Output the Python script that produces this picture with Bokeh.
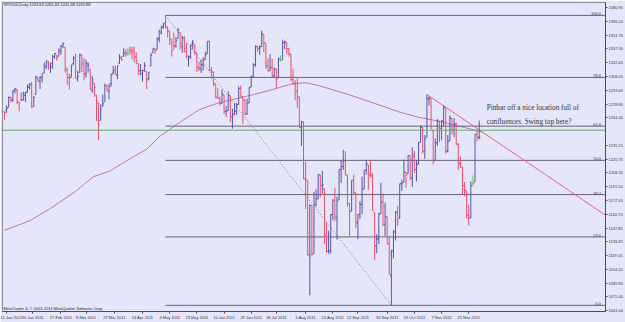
import numpy as np
from bokeh.plotting import figure
from bokeh.models import Range1d, FixedTicker, PrintfTickFormatter, ColumnDataSource, Label, Span
from bokeh.core.properties import value
from bokeh.embed import file_html
from bokeh.resources import INLINE

# ---------------- data: SPX500 daily bars, 10 Jan 2011 .. 2 Dec 2011 (bar index 0..227)
opens = [
    1270.8, 1272.6, 1275.7, 1285.8, 1282.9, 1293.2, 1294.5, 1280.9, 1283.6, 1283.3, 1288.2, 1291.9, 1297.5, 1299.6, 1276.5,
    1289.1, 1305.9, 1302.8, 1307.0, 1311.9, 1318.8, 1322.5, 1318.1, 1318.7, 1328.7, 1330.4, 1329.5, 1334.4, 1340.4, 1338.9, 1315.4, 1307.1, 1307.3, 1321.6,
    1328.6, 1305.5, 1312.4, 1330.7, 1322.7, 1311.1, 1319.9, 1315.7, 1293.4, 1301.2, 1288.5, 1279.5, 1261.6, 1276.7, 1281.7, 1298.3, 1292.2, 1300.6, 1311.8, 1315.5, 1309.4, 1321.9, 1327.4,
    1329.5, 1333.6, 1332.6, 1335.9, 1334.8, 1336.2, 1329.0, 1321.9, 1314.0, 1311.1, 1314.5, 1313.4, 1305.9, 1319.1, 1333.2, 1337.1, 1336.8, 1348.4, 1353.9, 1360.1,
    1365.2, 1359.8, 1355.9, 1344.2, 1341.0, 1340.2, 1348.3, 1354.5, 1339.4, 1348.7, 1334.8, 1326.1, 1328.5, 1342.4, 1342.0, 1333.1, 1317.7, 1316.4, 1320.6, 1325.7, 1332.0,
    1345.2, 1314.6, 1312.9, 1300.3, 1286.3, 1284.6, 1279.6, 1288.6, 1271.3, 1272.2, 1287.9, 1265.5, 1268.6, 1271.5, 1278.4, 1295.5, 1286.6, 1283.0, 1268.4, 1280.2, 1296.9, 1307.6,
    1320.6, 1339.6, 1337.6, 1339.6, 1352.4, 1343.3, 1319.6, 1314.5, 1317.7, 1308.9, 1315.9, 1307.1, 1325.8, 1325.6, 1343.8, 1344.3, 1337.4, 1331.9, 1304.8, 1300.1,
    1292.6, 1286.6, 1254.2, 1260.2, 1200.3, 1198.5, 1120.2, 1171.8, 1121.3, 1172.9, 1178.9, 1204.2, 1192.9, 1189.6, 1140.5, 1123.6, 1124.4, 1162.2, 1176.7, 1158.9, 1177.9, 1209.8, 1213.0,
    1219.1, 1203.9, 1174.0, 1165.9, 1198.0, 1185.4, 1153.5, 1162.6, 1173.3, 1189.4, 1209.2, 1215.0, 1204.5, 1203.6, 1164.6, 1128.8, 1136.9, 1163.3, 1175.4, 1151.7, 1159.9,
    1131.2, 1097.4, 1124.0, 1144.1, 1165.0, 1158.2, 1194.6, 1196.2, 1207.0, 1205.7, 1224.5, 1200.8, 1223.5, 1209.9, 1215.4, 1238.7, 1254.2, 1229.2, 1244.0, 1284.4, 1285.0,
    1251.0, 1219.6, 1238.2, 1260.8, 1253.2, 1261.1, 1275.2, 1229.6, 1240.1, 1263.9, 1251.7, 1257.8, 1236.6, 1216.2, 1212.5, 1193.0, 1187.5, 1161.4, 1158.7, 1195.2, 1196.7,
    1246.9, 1243.63,
]
highs = [
    1271.5, 1277.6, 1286.9, 1286.7, 1293.2, 1296.1, 1294.6, 1281.0, 1291.2, 1291.9, 1291.3, 1299.7, 1301.3, 1302.7, 1287.2,
    1308.9, 1307.6, 1308.6, 1311.0, 1322.9, 1324.9, 1324.5, 1322.8, 1330.8, 1332.9, 1330.4, 1337.6, 1341.5, 1344.1, 1338.9, 1317.9, 1310.9, 1320.6, 1329.4,
    1332.1, 1314.2, 1332.3, 1331.1, 1327.7, 1325.7, 1323.2, 1315.7, 1308.4, 1301.2, 1288.5, 1280.9, 1278.9, 1288.9, 1300.6, 1299.4, 1300.5, 1311.3, 1319.2, 1319.7, 1319.4, 1331.7, 1329.8,
    1337.9, 1336.7, 1338.2, 1340.0, 1339.5, 1339.5, 1333.8, 1321.9, 1321.4, 1315.0, 1322.9, 1313.4, 1312.7, 1332.7, 1337.5, 1337.6, 1349.6, 1357.5, 1361.7, 1364.6,
    1372.6, 1360.8, 1355.9, 1348.0, 1354.4, 1349.4, 1359.4, 1354.5, 1351.1, 1350.5, 1343.3, 1330.4, 1341.8, 1346.8, 1342.0, 1333.1, 1323.7, 1325.9, 1328.5, 1334.6, 1345.2,
    1345.2, 1318.0, 1312.9, 1300.3, 1296.2, 1287.0, 1294.5, 1288.6, 1277.0, 1292.5, 1287.9, 1274.1, 1279.8, 1280.4, 1297.6, 1298.6, 1286.6, 1283.9, 1284.9, 1296.8, 1309.2, 1322.0,
    1341.0, 1340.9, 1340.9, 1356.5, 1352.4, 1343.3, 1327.2, 1331.5, 1326.9, 1317.7, 1315.9, 1328.1, 1330.4, 1347.0, 1346.1, 1344.3, 1338.5, 1331.9, 1316.3, 1304.2,
    1307.4, 1286.6, 1261.2, 1260.2, 1218.1, 1198.5, 1172.9, 1171.8, 1186.3, 1189.0, 1204.5, 1204.2, 1208.5, 1189.6, 1154.5, 1145.5, 1162.4, 1178.6, 1190.7, 1181.2, 1210.1, 1220.1, 1230.7,
    1229.3, 1203.9, 1174.0, 1198.6, 1204.4, 1185.4, 1162.5, 1176.4, 1202.4, 1209.1, 1220.1, 1215.0, 1220.4, 1206.3, 1164.6, 1141.7, 1164.2, 1195.9, 1184.7, 1175.1, 1159.9,
    1139.0, 1125.1, 1146.1, 1165.6, 1171.4, 1194.9, 1199.2, 1220.3, 1207.5, 1224.6, 1224.5, 1233.1, 1229.6, 1219.4, 1239.0, 1256.6, 1254.2, 1246.3, 1289.0, 1287.1, 1285.0,
    1251.0, 1242.5, 1263.2, 1260.8, 1261.7, 1277.6, 1275.2, 1246.2, 1267.0, 1263.9, 1264.3, 1259.6, 1237.7, 1223.5, 1212.5, 1196.8, 1187.5, 1172.7, 1197.4, 1203.7, 1247.1,
    1251.1, 1261.63,
]
lows = [
    1262.2, 1269.6, 1275.7, 1280.5, 1281.1, 1290.2, 1278.9, 1271.3, 1282.1, 1282.5, 1281.1, 1291.0, 1294.4, 1275.1, 1276.0,
    1289.1, 1302.6, 1294.8, 1301.7, 1311.9, 1316.0, 1314.9, 1311.7, 1316.1, 1326.9, 1324.6, 1329.5, 1331.0, 1338.1, 1312.3, 1299.6, 1294.3, 1307.3, 1320.6,
    1306.1, 1302.6, 1312.4, 1312.6, 1304.0, 1306.9, 1312.3, 1294.2, 1291.0, 1286.4, 1261.1, 1241.0, 1261.6, 1276.2, 1281.7, 1292.7, 1284.0, 1297.7, 1310.2, 1310.2, 1305.3, 1321.9, 1325.0,
    1328.9, 1329.1, 1330.0, 1331.0, 1326.0, 1322.9, 1321.1, 1309.5, 1309.2, 1302.6, 1313.1, 1294.7, 1304.0, 1319.1, 1333.2, 1331.7, 1336.8, 1344.2, 1352.9, 1358.7,
    1358.6, 1349.5, 1341.5, 1329.2, 1336.4, 1338.6, 1348.3, 1336.4, 1333.1, 1333.4, 1327.3, 1318.5, 1326.6, 1336.7, 1330.7, 1312.9, 1313.9, 1311.8, 1314.4, 1325.7, 1332.0,
    1313.7, 1305.6, 1297.9, 1284.9, 1284.7, 1277.4, 1279.6, 1268.3, 1265.6, 1272.2, 1260.0, 1253.0, 1267.4, 1267.6, 1278.4, 1286.8, 1258.0, 1267.2, 1267.5, 1280.2, 1296.9, 1307.6,
    1318.2, 1334.3, 1330.9, 1339.6, 1333.7, 1316.4, 1313.3, 1314.5, 1306.5, 1307.5, 1295.9, 1307.1, 1323.7, 1325.6, 1337.0, 1331.1, 1329.1, 1303.5, 1299.2, 1282.9,
    1274.7, 1254.0, 1234.6, 1199.5, 1168.1, 1119.3, 1077.0, 1118.0, 1121.3, 1170.7, 1178.9, 1180.5, 1184.5, 1131.0, 1122.1, 1121.1, 1121.1, 1156.3, 1155.1, 1135.9, 1177.9, 1195.8, 1209.4,
    1203.9, 1170.6, 1140.1, 1165.9, 1183.3, 1148.4, 1136.1, 1157.4, 1162.7, 1189.4, 1204.5, 1188.4, 1201.2, 1166.4, 1114.2, 1121.4, 1131.1, 1163.3, 1150.4, 1139.9, 1131.3,
    1098.9, 1066.5, 1116.1, 1135.0, 1150.3, 1158.2, 1187.3, 1196.2, 1190.6, 1205.7, 1198.6, 1191.5, 1206.3, 1197.3, 1215.4, 1238.7, 1226.8, 1221.1, 1244.0, 1277.0, 1253.2,
    1215.4, 1219.6, 1234.8, 1238.9, 1240.8, 1255.0, 1226.6, 1227.7, 1240.1, 1246.7, 1244.3, 1235.7, 1209.4, 1211.4, 1183.5, 1181.7, 1158.0, 1151.0, 1158.7, 1191.8, 1196.7,
    1239.7, 1241.88,
]
closes = [
    1269.8, 1274.5, 1286.0, 1283.8, 1293.2, 1295.0, 1281.9, 1280.3, 1283.4, 1290.8, 1291.2, 1296.6, 1299.5, 1276.3, 1286.1,
    1307.6, 1304.0, 1307.1, 1310.9, 1319.1, 1324.6, 1320.9, 1321.9, 1329.2, 1332.3, 1328.0, 1336.3, 1340.4, 1343.0, 1315.4, 1307.4, 1306.1, 1319.9, 1327.2,
    1306.3, 1308.4, 1331.0, 1321.2, 1310.1, 1321.8, 1320.0, 1295.1, 1304.3, 1296.4, 1281.9, 1256.9, 1273.7, 1279.2, 1298.4, 1293.8, 1297.5, 1309.7, 1313.8, 1310.2, 1319.4, 1328.3, 1325.8,
    1332.4, 1332.9, 1332.6, 1335.5, 1333.5, 1328.2, 1324.5, 1314.2, 1314.4, 1314.5, 1319.7, 1305.1, 1312.6, 1330.4, 1337.4, 1335.3, 1347.2, 1355.7, 1360.5, 1363.6,
    1361.2, 1356.6, 1347.3, 1335.1, 1340.2, 1346.3, 1357.2, 1342.1, 1348.7, 1337.8, 1329.5, 1329.0, 1340.7, 1343.6, 1333.3, 1317.4, 1316.3, 1320.5, 1325.7, 1331.1, 1345.2,
    1314.6, 1312.9, 1300.2, 1286.2, 1284.9, 1279.6, 1289.0, 1271.0, 1271.8, 1287.9, 1265.4, 1267.6, 1271.5, 1278.4, 1295.5, 1287.1, 1283.5, 1268.5, 1280.1, 1296.7, 1307.4, 1320.6,
    1339.7, 1337.9, 1339.2, 1353.2, 1343.8, 1319.5, 1313.6, 1317.7, 1308.9, 1316.1, 1305.4, 1326.7, 1325.8, 1343.8, 1345.0, 1337.4, 1331.9, 1304.9, 1300.7, 1292.3,
    1286.9, 1254.1, 1260.3, 1200.1, 1199.4, 1119.5, 1172.5, 1120.8, 1172.6, 1178.8, 1204.5, 1192.8, 1193.9, 1140.7, 1123.5, 1123.8, 1162.4, 1177.6, 1159.3, 1176.8, 1210.1, 1212.9, 1218.9,
    1204.4, 1174.0, 1165.2, 1198.6, 1185.9, 1154.2, 1162.3, 1172.9, 1188.7, 1209.1, 1216.0, 1204.1, 1202.1, 1166.8, 1129.6, 1136.4, 1163.0, 1175.4, 1151.1, 1160.4, 1131.4,
    1099.2, 1124.0, 1144.0, 1165.0, 1155.5, 1194.9, 1195.5, 1207.3, 1203.7, 1224.6, 1200.9, 1225.4, 1209.9, 1215.4, 1238.3, 1254.2, 1229.1, 1242.0, 1284.6, 1285.1, 1253.3,
    1218.3, 1237.9, 1261.2, 1253.2, 1261.1, 1275.9, 1229.1, 1239.7, 1263.9, 1251.8, 1257.8, 1236.9, 1216.1, 1215.7, 1193.0, 1188.0, 1161.8, 1158.7, 1192.6, 1195.2, 1247.0,
    1244.6, 1243.88,
]

# time axis labels (bar index of the labelled day)
date_tick_idx = [1, 13.5, 27, 39, 52.5, 66, 79, 92, 105, 118, 130, 144, 157, 169, 183, 196, 209, 222]
date_tick_labels = ["11 Jan 2011", "30 Jan 2011", "17 Feb 2011", "8 Mar 2011", "27 Mar 2011", "14 Apr 2011",
                    "4 May 2011", "23 May 2011", "10 Jun 2011", "29 Jun 2011", "18 Jul 2011", "5 Aug 2011",
                    "24 Aug 2011", "12 Sep 2011", "30 Sep 2011", "19 Oct 2011", "7 Nov 2011", "25 Nov 2011"]

# price axis labels
price_ticks = [1061.00, 1075.40, 1089.80, 1104.20, 1119.05, 1133.45, 1147.85, 1162.70, 1177.10, 1191.50,
               1206.35, 1220.75, 1235.15, 1264.40, 1278.80, 1293.65, 1308.05, 1322.45, 1337.30, 1351.70,
               1366.10, 1380.95]

# 200-day moving average
ma_idx = [0, 12.4, 21.9, 33.8, 42.4, 50.5, 61.4, 68.1, 74.3, 83.8, 93.3, 102.9, 117.1, 128.1, 137.6,
          144.3, 150.5, 164.8, 188.6, 198.1, 207.6, 217.1, 228.1]
ma_vals = [1145.7, 1156.1, 1168.7, 1186.5, 1202.2, 1208.4, 1223.1, 1231.5, 1245.0, 1259.7, 1273.3, 1280.6,
           1287.9, 1294.2, 1300.4, 1301.5, 1298.3, 1288.9, 1270.8, 1264.9, 1261.0, 1255.8, 1249.6]

# Fibonacci retracement (anchors: 2 May high -> 4 Oct low)
fib_levels = [0.0, 23.6, 38.2, 50.0, 61.8, 78.6, 100.0]
fib_anchor_idx = [77, 185]
fib_anchor_price = [1372.6, 1066.5]

# trend line from the 27 Oct high
trend_idx = [202, 287.6]
trend_price = [1289.0, 1161.4]

green_line_price = 1251.40
title_text = "SPX500,Daily  1243.63 1261.63 1241.88 1243.88"
copyright_text = "MetaTrader 4, \u00a9 2001-2011 MetaQuotes Software Corp."
note_lines = ["Pinbar off a nice location full of", "confluences. Swing top here?"]

# ---------------- figure
X0, X1 = -0.95, 287.4
Y0, Y1 = 1060.0, 1386.2
PXX = 2.1      # px per bar
PXY = 0.9565   # px per point

def ax(px):   # horizontal pixel (from left of frame) -> bar index
    return X0 + px / PXX

def ay(py):   # vertical pixel (from top of frame) -> price
    return Y1 - py / PXY

BG = "#E6E6FA"
AXC = "#4A4A5A"
FONT = value("Liberation Sans")

p = figure(width=625, height=322, output_backend="svg", toolbar_location=None,
           x_range=Range1d(X0, X1), y_range=Range1d(Y0, Y1), y_axis_location="right",
           min_border_left=2, min_border_top=2, min_border_right=0, min_border_bottom=0,
           background_fill_color=BG, border_fill_color=BG, outline_line_color="#8C8C9C")
p.grid.visible = False

xa = p.xaxis[0]
xa.ticker = FixedTicker(ticks=date_tick_idx)
xa.major_label_overrides = {t: l for t, l in zip(date_tick_idx, date_tick_labels)}
xa.major_label_text_font_size = "4px"
xa.major_label_text_font = "Liberation Sans"
xa.major_label_text_color = "#333344"
xa.major_label_text_align = "left"
xa.major_label_standoff = 1
xa.major_tick_out = 2
xa.major_tick_in = 0
xa.minor_tick_out = 0
xa.minor_tick_in = 0
xa.axis_line_color = AXC
xa.major_tick_line_color = AXC

ya = p.yaxis[0]
ya.ticker = FixedTicker(ticks=price_ticks)
ya.formatter = PrintfTickFormatter(format="%.2f")
ya.major_label_text_font_size = "4px"
ya.major_label_text_font = "Liberation Sans"
ya.major_label_text_color = "#333344"
ya.major_label_standoff = 1
ya.major_tick_out = 2
ya.major_tick_in = 0
ya.minor_tick_out = 0
ya.minor_tick_in = 0
ya.axis_line_color = AXC
ya.major_tick_line_color = AXC

# moving average
p.line(ma_idx, ma_vals, line_color="#C070C0", line_width=1)

# fibonacci
fib_hi, fib_lo = fib_anchor_price
fib_prices = [fib_lo + lv / 100.0 * (fib_hi - fib_lo) for lv in fib_levels]
nf = len(fib_levels)
p.segment(x0=[fib_anchor_idx[0]] * nf, y0=fib_prices, x1=[X1] * nf, y1=fib_prices,
          line_color="#646474", line_width=1)
p.line(fib_anchor_idx, fib_anchor_price, line_color="#7A7A8A", line_dash="1 2", line_width=1)
p.text(x=[ax(601)] * nf, y=fib_prices, text=[f"{lv:.1f}" for lv in fib_levels],
       text_align="right", text_baseline="bottom", text_font=FONT, text_font_size="4px",
       text_color="#333344")

# green horizontal line
p.add_layout(Span(location=green_line_price, dimension="width", line_color="#5FAF5F", line_width=1))

# trend line
p.line(trend_idx, trend_price, line_color="#F0607A", line_width=1)

# OHLC bars
idx = np.arange(len(closes))
colors = ["#50D050" if c == o else ("#5A52A8" if c > o else "#E8506E") for o, c in zip(opens, closes)]
src = ColumnDataSource(dict(x=idx, xl=idx - 0.6, xr=idx + 0.6, o=opens, h=highs, l=lows, c=closes, color=colors))
p.segment(x0="x", y0="l", x1="x", y1="h", line_color="color", line_width=1, source=src)
p.segment(x0="xl", y0="o", x1="x", y1="o", line_color="color", line_width=1, source=src)
p.segment(x0="x", y0="c", x1="xr", y1="c", line_color="color", line_width=1, source=src)

# texts
p.text(x=[ax(1)], y=[ay(2.5)], text=[title_text], text_align="left", text_baseline="middle",
       text_font=FONT, text_font_size="4px", text_color="#222233")
p.text(x=[ax(1)], y=[ay(308.5)], text=[copyright_text], text_align="left", text_baseline="middle",
       text_font=FONT, text_font_size="4px", text_color="#222233")
p.text(x=[ax(486.3)] * 2, y=[ay(106.3), ay(120.3)], text=note_lines, text_align="left",
       text_baseline="middle", text_font=value("Liberation Serif"), text_font_size="7.2px",
       text_color="#333333")

# price boxes on the axis
p.add_layout(Label(x=ax(606.8), y=green_line_price, text=f"{green_line_price:.2f}", text_font_size="4px",
                   text_font="Liberation Sans", text_color="white", text_baseline="middle",
                   background_fill_color="#10B010", padding=1))
p.add_layout(Label(x=ax(606.8), y=closes[-1], text=f"{closes[-1]:.2f}", text_font_size="4px",
                   text_font="Liberation Sans", text_color="white", text_baseline="middle",
                   background_fill_color="#000000", padding=1))

open("out.html", "w").write(file_html(p, INLINE))
